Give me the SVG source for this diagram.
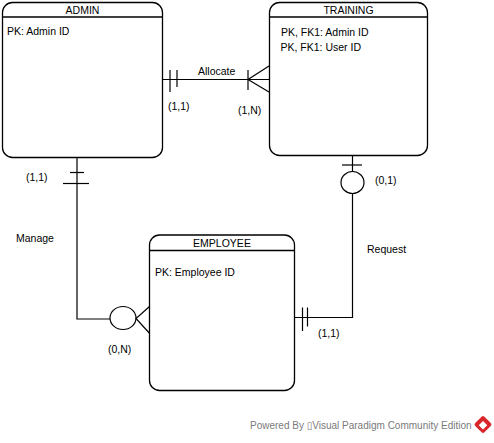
<svg xmlns="http://www.w3.org/2000/svg" width="494" height="443" viewBox="0 0 494 443">
  <style>
    .ent { fill: #ffffff; stroke: #000000; stroke-width: 1.3; }
    .sep { stroke: #000000; stroke-width: 1.3; }
    .t { font-family: "Liberation Sans", Arial, sans-serif; font-size: 10.5px; fill: #000000; }
    .c { text-anchor: middle; }
    .ln { fill: none; stroke: #000000; stroke-width: 1.2; }
    .foot { font-family: "Liberation Sans", Arial, sans-serif; font-size: 10px; fill: #7a7a7a; }
  </style>
  <rect width="494" height="443" fill="#ffffff"/>

  <!-- relationships -->
  <g id="connectors">
    <!-- Allocate: ADMIN (1,1) to TRAINING (1,N) -->
    <g id="allocate">
      <line class="ln" x1="162.5" y1="79.5" x2="269" y2="79.5"/>
      <line class="ln" x1="170" y1="70" x2="170" y2="92"/>
      <line class="ln" x1="177" y1="70" x2="177" y2="87"/>
      <line class="ln" x1="248" y1="70" x2="248" y2="90"/>
      <polyline class="ln" points="269,66 248,79.5 269,92"/>
      <text class="t" x="198" y="75">Allocate</text>
      <text class="t" x="168" y="109.5">(1,1)</text>
      <text class="t" x="238" y="114">(1,N)</text>
    </g>
    <!-- Manage: ADMIN (1,1) to EMPLOYEE (0,N) -->
    <g id="manage">
      <polyline class="ln" points="77,157 77,319 110,319"/>
      <line class="ln" x1="70" y1="172.5" x2="84" y2="172.5"/>
      <line class="ln" x1="63" y1="183.5" x2="89" y2="183.5"/>
      <ellipse class="ln" cx="123" cy="318" rx="13" ry="11.5"/>
      <polyline class="ln" points="149.5,306.5 136,318.5 151.5,335.5"/>
      <text class="t" x="26" y="181">(1,1)</text>
      <text class="t" x="16" y="242">Manage</text>
      <text class="t" x="108" y="353">(0,N)</text>
    </g>
    <!-- Request: TRAINING (0,1) to EMPLOYEE (1,1) -->
    <g id="request">
      <line class="ln" x1="352.5" y1="155" x2="352.5" y2="171"/>
      <line class="ln" x1="342" y1="165" x2="362" y2="165"/>
      <ellipse class="ln" cx="352.5" cy="182.5" rx="11.5" ry="11"/>
      <polyline class="ln" points="352.5,193.5 352.5,317.5 294.5,317.5"/>
      <line class="ln" x1="302.5" y1="307.5" x2="302.5" y2="331"/>
      <line class="ln" x1="307.5" y1="307.5" x2="307.5" y2="326.5"/>
      <text class="t" x="375" y="184">(0,1)</text>
      <text class="t" x="367" y="253">Request</text>
      <text class="t" x="318" y="337">(1,1)</text>
    </g>
  </g>

  <!-- entities -->
  <g id="admin">
    <rect class="ent" x="2.5" y="2.5" width="160" height="155" rx="10" ry="10"/>
    <line class="sep" x1="2.5" y1="17" x2="162.5" y2="17"/>
    <text class="t c" x="82.5" y="14">ADMIN</text>
    <text class="t" x="7" y="35">PK: Admin ID</text>
  </g>

  <g id="training">
    <rect class="ent" x="269.5" y="2.5" width="158" height="153" rx="10" ry="10"/>
    <line class="sep" x1="269.5" y1="17" x2="427.5" y2="17"/>
    <text class="t c" x="348.5" y="14">TRAINING</text>
    <text class="t" x="281" y="36">PK, FK1: Admin ID</text>
    <text class="t" x="280.5" y="50.5">PK, FK1: User ID</text>
  </g>

  <g id="employee">
    <rect class="ent" x="149.5" y="235" width="145" height="155.5" rx="10" ry="10"/>
    <line class="sep" x1="149.5" y1="250.5" x2="294.5" y2="250.5"/>
    <text class="t c" x="222" y="246.5">EMPLOYEE</text>
    <text class="t" x="155" y="276">PK: Employee ID</text>
  </g>

  <!-- footer -->
  <g id="footer">
    <text class="foot" x="250" y="429">Powered By <tspan font-family="DejaVu Sans, sans-serif">▯</tspan>Visual Paradigm Community Edition</text>
    <g transform="translate(483,424.5) rotate(45)">
      <rect x="-6.5" y="-6.5" width="13" height="13" rx="2" fill="#d9262b"/>
      <rect x="-2.5" y="-2.5" width="6" height="6" fill="#ffffff"/>
    </g>
  </g>
</svg>
